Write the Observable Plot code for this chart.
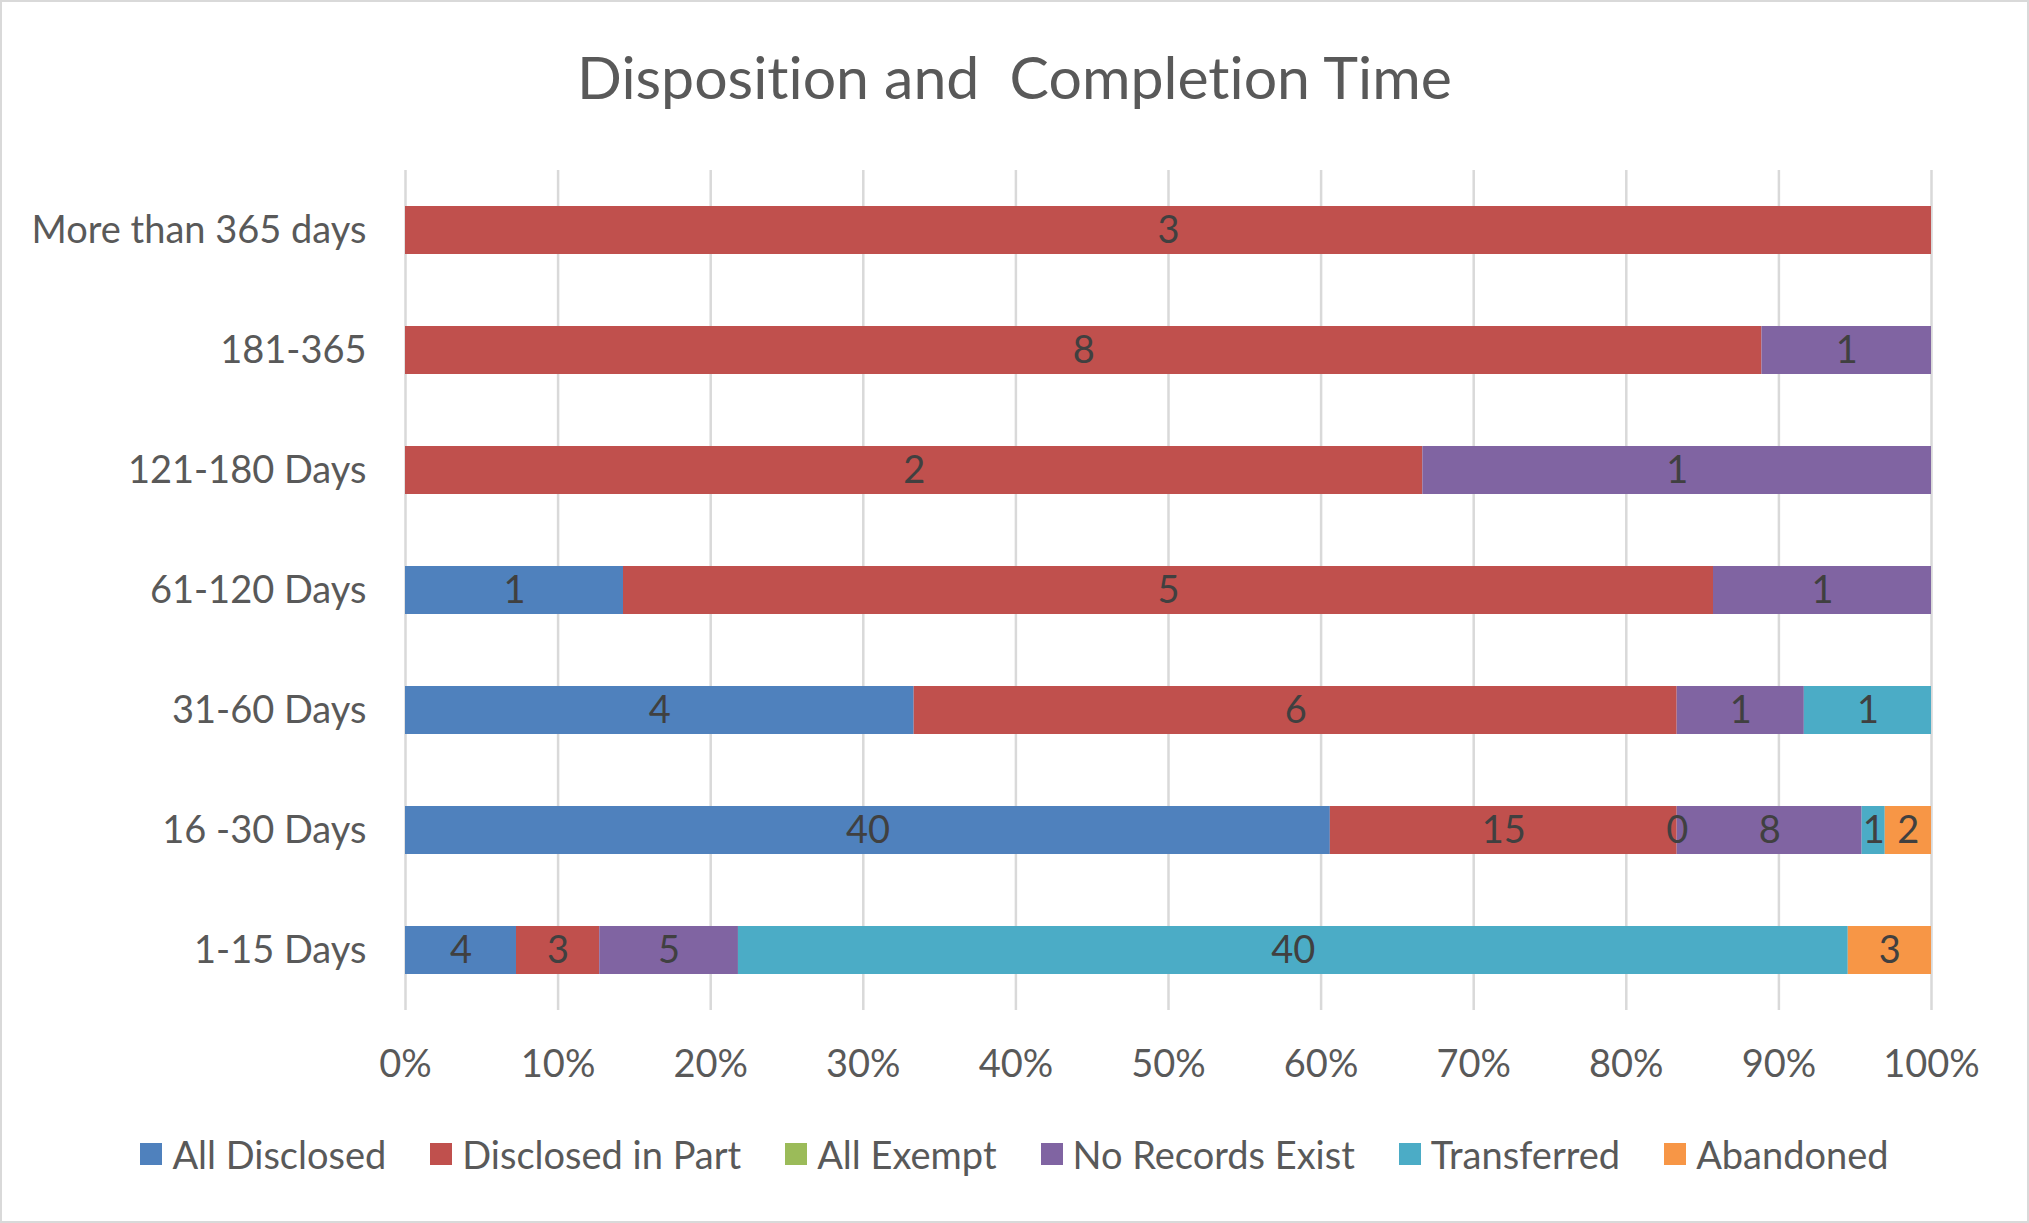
<!DOCTYPE html>
<html><head><meta charset="utf-8">
<script src="https://cdn.jsdelivr.net/npm/d3@7"></script>
<script src="https://cdn.jsdelivr.net/npm/@observablehq/plot@0.6"></script>
<style>
body{margin:0;background:#fff;}
#chart{position:relative;width:2029px;height:1223px;background:#fff;box-shadow:inset 0 0 0 2px #d9d9d9;font-family:Lato, sans-serif;color:#595959;overflow:hidden;font-variant-ligatures:none}
#title{position:absolute;left:0;right:0;top:47px;text-align:center;font-size:59px;white-space:pre;line-height:1;}
#plot{position:absolute;left:0;top:0}
#plot svg{font-variant-ligatures:none}
#legend{position:absolute;left:0;right:0;top:1135px;display:flex;justify-content:center;gap:44px;font-size:38px;line-height:38px}
.item{display:flex;align-items:center;gap:10px}
.sw{width:22px;height:22px;display:inline-block}
</style></head><body>
<div id="chart"><div id="title">Disposition and  Completion Time</div><div id="plot"></div><div id="legend"></div></div>
<script>
const categories = ["More than 365 days","181-365","121-180 Days","61-120 Days","31-60 Days","16 -30 Days","1-15 Days"];
const seriesNames = ["All Disclosed","Disclosed in Part","All Exempt","No Records Exist","Transferred","Abandoned"];
const seriesColors = ["#4F81BD","#C0504D","#9BBB59","#8064A2","#4BACC6","#F79646"];
const allDisclosed    = [null, null, null, 1, 4, 40, 4];
const disclosedInPart = [3, 8, 2, 5, 6, 15, 3];
const allExempt       = [null, null, null, null, null, 0, null];
const noRecordsExist  = [null, 1, 1, 1, 1, 8, 5];
const transferred     = [null, null, null, null, 1, 1, 40];
const abandoned       = [null, null, null, null, null, 2, 3];
const xTicks = [0, 0.1, 0.2, 0.3, 0.4, 0.5, 0.6, 0.7, 0.8, 0.9, 1];

const seriesValues = [allDisclosed, disclosedInPart, allExempt, noRecordsExist, transferred, abandoned];
const table = [];
seriesValues.forEach((vals, s) => vals.forEach((v, i) => {
  if (v != null) table.push({category: categories[i], series: seriesNames[s], value: v});
}));

const fmt = d3.format(".0%");
const plot = Plot.plot({
  width: 2029, height: 1110,
  marginTop: 170, marginBottom: 100, marginLeft: 405, marginRight: 98,
  style: {fontFamily: "Lato, sans-serif", fontSize: "38px", color: "#595959", background: "transparent"},
  x: {domain: [0, 1], label: null},
  y: {domain: categories, paddingInner: 0.6, paddingOuter: 0.3, label: null},
  color: {domain: seriesNames, range: seriesColors},
  marks: [
    Plot.gridX(xTicks, {stroke: "#d9d9d9", strokeWidth: 2.5, strokeOpacity: 1}),
    Plot.barX(table, Plot.stackX({offset: "normalize", x: "value", y: "category", fill: "series", z: "series"})),
    Plot.text(table, Plot.stackX({offset: "normalize", x: "value", y: "category", z: "series", text: d => String(d.value), fill: "#404040", fontSize: 38})),
    Plot.axisX(xTicks, {tickSize: 0, tickPadding: 40, tickFormat: fmt, fontSize: 38, fill: "#595959", label: null}),
    Plot.axisY({tickSize: 0, tickPadding: 39, fontSize: 38, fill: "#595959", label: null})
  ]
});
document.getElementById("plot").appendChild(plot);

const legend = document.getElementById("legend");
seriesNames.forEach((name, i) => {
  const it = document.createElement("div");
  it.className = "item";
  const sw = document.createElement("span");
  sw.className = "sw";
  sw.style.background = seriesColors[i];
  const t = document.createElement("span");
  t.textContent = name;
  it.appendChild(sw); it.appendChild(t);
  legend.appendChild(it);
});
</script>
</body></html>
